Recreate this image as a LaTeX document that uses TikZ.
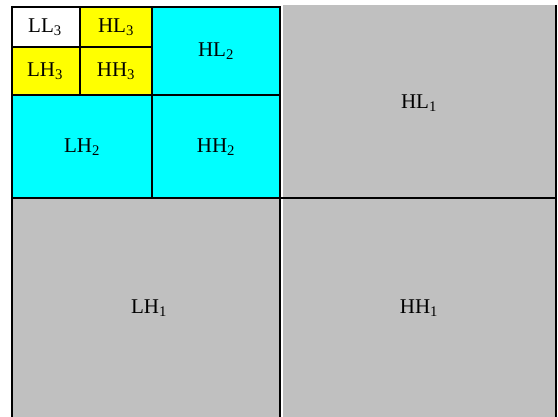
\documentclass[tikz,border=0pt]{standalone}
\usepackage{fontspec}
\setmainfont{Liberation Serif}
\definecolor{sbgrey}{HTML}{C0C0C0}
\definecolor{sbcyan}{HTML}{00FFFF}
\definecolor{sbyellow}{HTML}{FFFF00}
\begin{document}
\begin{tikzpicture}[x=1pt,y=-1pt,
  lbl/.style={font=\fontsize{21}{25}\selectfont, inner sep=0pt},
  grid/.style={line width=2pt, black}]
\useasboundingbox (0,0) rectangle (558,417);
% fills
\fill[sbgrey] (282.5,5) rectangle (556,417);
\fill[sbgrey] (12,198) rectangle (280,417);
\fill[sbcyan] (12,7) rectangle (280,198);
\fill[sbyellow] (12,7) rectangle (152,95);
\fill[white] (12,7) rectangle (80,47);
% lines
\draw[grid] (12,6) -- (12,417);
\draw[grid] (11,7) -- (281,7);
\draw[grid] (280,6) -- (280,417);
\draw[grid] (11,198.5) -- (556.5,198.5);
\draw[grid] (555.5,5) -- (555.5,417);
\draw[grid] (152,7) -- (152,198);
\draw[grid] (11,95) -- (280,95);
\draw[grid] (80,7) -- (80,95);
\draw[grid] (11,47) -- (152,47);
% labels
\node[lbl] (ll3) at (45,27) {LL\textsubscript{3}};
\node[lbl] (hl3) at (116,27) {HL\textsubscript{3}};
\node[lbl] (lh3) at (45,71) {LH\textsubscript{3}};
\node[lbl] (hh3) at (116,71) {HH\textsubscript{3}};
\node[lbl] (hl2) at (216,51) {HL\textsubscript{2}};
\node[lbl] (lh2) at (82,147) {LH\textsubscript{2}};
\node[lbl] (hh2) at (216,147) {HH\textsubscript{2}};
\node[lbl] (hl1) at (419,103) {HL\textsubscript{1}};
\node[lbl] (lh1) at (149,308) {LH\textsubscript{1}};
\node[lbl] (hh1) at (419,308) {HH\textsubscript{1}};
\end{tikzpicture}
\end{document}
